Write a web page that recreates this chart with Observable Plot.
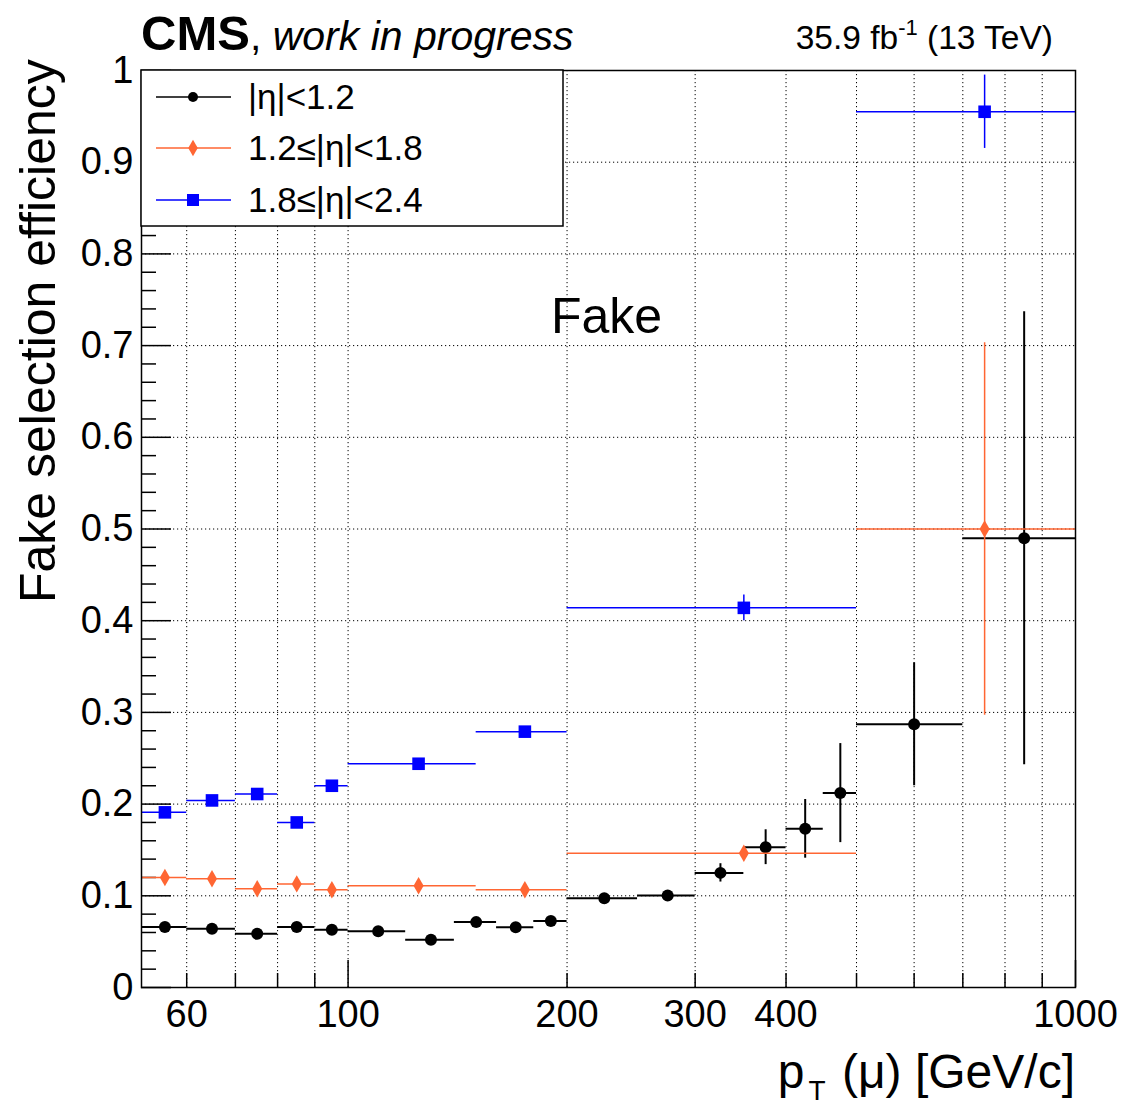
<!DOCTYPE html>
<html><head><meta charset="utf-8">
<script src="https://cdn.jsdelivr.net/npm/d3@7"></script>
<script src="https://cdn.jsdelivr.net/npm/@observablehq/plot@0.6"></script>
<style>
body{margin:0;background:#fff;}
#wrap{position:relative;width:1127px;height:1105px;font-family:"Liberation Sans",Arial,sans-serif;}
#wrap svg{position:absolute;left:0;top:0;}
</style></head><body><div id="wrap"></div>
<script>
// ---- data ----
const seriesNames = ["|η|<1.2", "1.2≤|η|<1.8", "1.8≤|η|<2.4"];
const seriesColors = ["#000000", "#ff6633", "#0000ff"];
// |eta|<1.2
const edgesBarrel = [52,60,70,80,90,100,120,140,160,180,200,250,300,350,400,450,500,700,1000];
const valsBarrel  = [0.066,0.064,0.0585,0.066,0.063,0.0614,0.052,0.0713,0.0658,0.0724,0.0974,0.1004,0.125,0.153,0.173,0.212,0.287,0.49];
const errsBarrel  = [0.003,0.003,0.003,0.003,0.003,0.003,0.003,0.003,0.003,0.003,0.004,0.004,0.010,0.019,0.032,0.054,0.067,0.247];
// 1.2<=|eta|<1.8 and 1.8<=|eta|<2.4
const edgesEndcap = [52,60,70,80,90,100,150,200,500,1000];
const valsOverlap = [0.120,0.1185,0.1076,0.113,0.1065,0.111,0.1065,0.1465,0.500];
const errsOverlap = [0.003,0.003,0.003,0.003,0.003,0.003,0.003,0.004,0.203];
const valsEndcap  = [0.191,0.204,0.211,0.180,0.220,0.244,0.279,0.414,0.955];
const errsEndcap  = [0.004,0.004,0.004,0.004,0.004,0.004,0.004,0.014,0.040];
// axes
const xGrid = [60,70,80,90,100,200,300,400,500,600,700,800,900,1000];
const xMajorTicks = [100,1000];
const xMinorTicks = [60,70,80,90,200,300,400,500,600,700,800,900];
const xLabels = [60,100,200,300,400,1000];
const yMajor = [0,0.1,0.2,0.3,0.4,0.5,0.6,0.7,0.8,0.9,1];
const yMinor = [0.02,0.04,0.06,0.08,0.12,0.14,0.16,0.18,0.22,0.24,0.26,0.28,0.32,0.34,0.36,0.38,0.42,0.44,0.46,0.48,0.52,0.54,0.56,0.58,0.62,0.64,0.66,0.68,0.72,0.74,0.76,0.78,0.82,0.84,0.86,0.88,0.92,0.94,0.96,0.98];
const yGrid = [0.1,0.2,0.3,0.4,0.5,0.6,0.7,0.8,0.9];

function build(edges, vals, errs, s) {
  return vals.map((v, i) => ({lo: edges[i], hi: edges[i+1], c: (edges[i]+edges[i+1])/2, v, e: errs[i], s}));
}
const dBarrel = build(edgesBarrel, valsBarrel, errsBarrel, 0);
const dOverlap = build(edgesEndcap, valsOverlap, errsOverlap, 1);
const dEndcap = build(edgesEndcap, valsEndcap, errsEndcap, 2);

const W = 1127, H = 1105, mL = 141, mR = 52, mT = 70, mB = 118;
const innerW = W - mL - mR, innerH = H - mT - mB;

function seriesMarks(d, color, sw, symbol, r) {
  return [
    Plot.ruleY(d, {y: "v", x1: "lo", x2: "hi", stroke: color, strokeWidth: sw}),
    Plot.ruleX(d, {x: "c", y1: p => p.v - p.e, y2: p => p.v + p.e, stroke: color, strokeWidth: sw}),
    Plot.dot(d, {x: "c", y: "v", symbol, r, fill: color, stroke: "none"})
  ];
}

const chart = Plot.plot({
  width: W, height: H,
  marginLeft: mL, marginRight: mR, marginTop: mT, marginBottom: mB,
  style: {fontFamily: "Liberation Sans, Arial, sans-serif", fontSize: "38px", color: "#000", background: "white"},
  x: {type: "log", domain: [52, 1000], axis: null},
  y: {domain: [0, 1], axis: null},
  marks: [
    Plot.gridX(xGrid, {stroke: "#000", strokeOpacity: 1, strokeWidth: 1, strokeDasharray: "1.2,2.8"}),
    Plot.gridY(yGrid, {stroke: "#000", strokeOpacity: 1, strokeWidth: 1, strokeDasharray: "1.2,2.8"}),
    Plot.tickX(xMajorTicks, {x: d => d, insetTop: innerH - 27, stroke: "#000", strokeWidth: 1.5}),
    Plot.tickX(xMinorTicks, {x: d => d, insetTop: innerH - 14, stroke: "#000", strokeWidth: 1.5}),
    Plot.tickY(yMajor, {y: d => d, insetRight: innerW - 30, stroke: "#000", strokeWidth: 1.5}),
    Plot.tickY(yMinor, {y: d => d, insetRight: innerW - 15, stroke: "#000", strokeWidth: 1.5}),
    Plot.axisX({ticks: xLabels, tickSize: 0, tickPadding: 13, tickFormat: d => String(d), label: null}),
    Plot.axisY({ticks: yMajor, tickSize: 0, tickPadding: 8, tickFormat: d => (d === 0 ? "0" : d === 1 ? "1" : d.toFixed(1)), label: null}),
    ...seriesMarks(dBarrel, seriesColors[0], 2, "circle", 6),
    ...seriesMarks(dOverlap, seriesColors[1], 1.5, "diamond", 5.3),
    ...seriesMarks(dEndcap, seriesColors[2], 1.5, "square", 7.1),
    Plot.frame({stroke: "#000", strokeWidth: 1.5})
  ]
});
document.getElementById("wrap").appendChild(chart);

// ---- overlay texts and legend ----
const ov = d3.select("#wrap").append("svg").attr("width", W).attr("height", H)
  .attr("font-family", "Liberation Sans, Arial, sans-serif").style("pointer-events", "none");

// title
const t = ov.append("text").attr("x", 141).attr("y", 50).attr("fill", "#000");
t.append("tspan").attr("font-weight", "bold").attr("font-size", 49).text("CMS");
t.append("tspan").attr("font-size", 41).text(", ");
t.append("tspan").attr("font-size", 41).attr("font-style", "italic").text("work in progress");

// lumi
const l = ov.append("text").attr("x", 1053).attr("y", 49).attr("text-anchor", "end").attr("font-size", 33.5);
l.append("tspan").text("35.9 fb");
l.append("tspan").attr("font-size", 22).attr("dy", -14).text("-1");
l.append("tspan").attr("dy", 14).text(" (13 TeV)");

// y label
ov.append("text").attr("transform", "translate(55,603) rotate(-90)").attr("font-size", 50).text("Fake selection efficiency");

// x label
const xl = ov.append("text").attr("x", 1075).attr("y", 1088).attr("text-anchor", "end").attr("font-size", 48);
xl.append("tspan").text("p");
xl.append("tspan").attr("font-size", 28).attr("dx", 4).attr("dy", 12).text("T");
xl.append("tspan").attr("dx", 3).attr("dy", -12).text(" (μ) [GeV/c]");

// annotation
ov.append("text").attr("x", 551).attr("y", 333).attr("font-size", 50).text("Fake");

// legend
const lg = ov.append("g");
lg.append("rect").attr("x", 141).attr("y", 70).attr("width", 422).attr("height", 156)
  .attr("fill", "white").attr("stroke", "#000").attr("stroke-width", 1.5);
const rows = [97, 148, 200];
seriesNames.forEach((name, i) => {
  const y = rows[i];
  lg.append("line").attr("x1", 156).attr("x2", 231).attr("y1", y).attr("y2", y)
    .attr("stroke", seriesColors[i]).attr("stroke-width", 1.5);
  const sym = [d3.symbolCircle, d3.symbolDiamond, d3.symbolSquare][i];
  const size = [Math.PI * 25, Math.PI * 5 * 5, 144][i];
  lg.append("path").attr("d", d3.symbol(sym, size)()).attr("transform", `translate(193,${y})`)
    .attr("fill", seriesColors[i]);
  lg.append("text").attr("x", 248).attr("y", y + 12).attr("font-size", 35).text(name);
});
</script></body></html>
